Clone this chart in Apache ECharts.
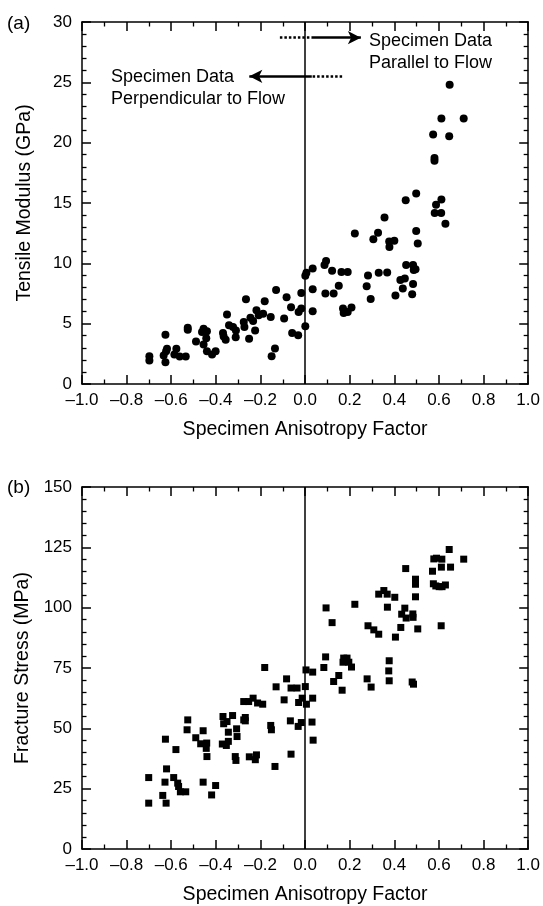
<!DOCTYPE html>
<html>
<head>
<meta charset="utf-8">
<script src="https://cdn.jsdelivr.net/npm/echarts@6/dist/echarts.min.js"></script>
<style>
html,body{margin:0;padding:0;background:#fff;}
#chart{width:543px;height:906px;}
</style>
</head>
<body>
<div id="chart"></div>
<script>
// ---- Data ----
const modulusX = [-0.698,-0.698,-0.626,-0.634,-0.623,-0.626,-0.619,-0.577,-0.586,-0.562,-0.535,-0.526,-0.526,-0.489,-0.462,-0.455,-0.440,-0.455,-0.443,-0.440,-0.417,-0.401,-0.350,-0.368,-0.365,-0.356,-0.341,-0.323,-0.311,-0.310,-0.272,-0.275,-0.265,-0.251,-0.245,-0.224,-0.233,-0.218,-0.208,-0.188,-0.181,-0.154,-0.150,-0.135,-0.130,-0.094,-0.083,-0.063,-0.058,-0.031,
 -0.029,-0.017,-0.017,0.001,0.001,0.006,0.034,0.034,0.034,0.087,0.094,0.091,0.121,0.128,0.151,0.163,0.191,0.170,0.173,0.191,0.208,0.223,0.276,0.282,0.294,0.306,0.327,0.330,0.356,0.368,0.377,0.378,0.400,0.405,0.427,0.438,0.447,0.451,0.453,0.480,0.484,0.484,0.487,0.495,0.498,0.498,0.505,0.574,0.580,0.580,0.581,0.587,0.611,0.610,0.611,0.629,0.646,0.711,0.648];
const modulusY = [2.30,1.94,4.08,2.36,2.72,1.80,2.92,2.92,2.44,2.28,2.28,4.67,4.50,3.52,4.30,4.58,4.38,3.27,3.80,2.72,2.44,2.72,5.75,4.22,3.94,3.67,4.86,4.72,3.88,4.44,4.72,5.13,7.03,3.75,5.50,4.44,5.22,6.11,5.69,5.83,6.86,5.55,2.30,2.94,7.78,5.42,7.19,6.36,4.22,4.03,
 5.97,6.25,7.55,4.78,8.97,9.22,9.58,7.86,6.03,9.86,10.19,7.50,9.39,7.50,8.14,9.28,9.28,6.25,5.89,5.97,6.33,12.47,8.11,9.00,7.05,12.0,12.53,9.22,13.8,9.25,11.8,11.36,11.88,7.33,8.61,7.92,8.75,15.22,9.86,7.44,8.28,9.86,9.44,9.5,15.78,12.67,11.64,20.67,18.72,18.5,14.17,14.86,22.0,14.17,15.3,13.28,20.53,22.0,24.8];

const stressX = [-0.701,-0.701,-0.626,-0.638,-0.628,-0.623,-0.621,-0.589,-0.579,-0.571,-0.567,-0.559,-0.535,-0.526,-0.529,-0.490,-0.468,-0.457,-0.457,-0.441,-0.443,-0.440,-0.419,-0.401,-0.368,-0.365,-0.371,-0.353,-0.350,-0.344,-0.344,-0.325,-0.313,-0.310,-0.307,-0.305,-0.275,-0.275,-0.268,-0.268,-0.253,-0.250,-0.233,-0.223,-0.218,-0.213,-0.190,-0.181,-0.154,-0.151,-0.135,-0.130,-0.094,-0.083,-0.066,-0.063,-0.063,-0.036,-0.031,-0.029,
 -0.017,-0.013,0.001,0.006,0.004,0.034,0.034,0.031,0.036,0.084,0.092,0.094,0.121,0.128,0.151,0.166,0.170,0.173,0.188,0.196,0.208,0.223,0.278,0.282,0.296,0.308,0.330,0.330,0.353,0.368,0.369,0.377,0.375,0.377,0.402,0.405,0.429,0.433,0.447,0.451,0.453,0.480,0.486,0.483,0.484,0.495,0.495,0.495,0.505,0.571,0.577,0.589,0.575,0.586,0.601,0.614,0.629,0.610,0.613,0.611,0.646,0.652,0.711];
const stressY = [29.6,19.0,45.5,22.2,27.7,19.0,33.2,29.6,41.2,27.3,25.9,23.7,23.7,53.5,49.4,46.1,43.6,49.0,27.7,43.9,41.7,38.3,22.4,26.3,54.9,51.9,43.5,42.9,52.8,48.4,44.6,55.3,38.3,36.7,49.8,46.6,53.5,61.1,54.5,53.1,61.1,38.2,62.5,37.0,39.0,60.5,60.0,75.2,51.2,49.4,34.2,67.2,61.8,70.5,53.1,39.3,66.7,66.7,50.8,60.7,
 52.4,62.5,67.3,60.0,74.2,73.3,62.5,52.6,45.1,75.2,79.6,99.9,93.8,69.4,71.9,65.8,77.4,79.1,79.1,77.4,75.4,101.4,70.5,92.5,67.1,90.8,89.0,105.6,107.1,105.6,100.2,78.0,73.8,69.7,104.3,87.8,91.8,97.3,99.8,116.2,95.7,69.2,68.3,97.4,96.0,111.8,109.7,104.5,91.2,115.1,120.2,120.5,109.9,109.0,108.7,108.7,109.4,92.5,120.1,116.8,124.1,116.8,120.1];

const xTicks = {min: -1, max: 1, interval: 0.2};
const modulusTicks = {min: 0, max: 30, interval: 5};
const stressTicks = {min: 0, max: 150, interval: 25};

// arrow annotations (data coords) : [xStart, xDashEnd, xTip, y]
const arrowParallel = [-0.113, 0.03, 0.25, 28.7];
const arrowPerp = [0.166, 0.03, -0.25, 25.5];

// ---- Chart ----
const FONT = 'Liberation Sans, Arial, Helvetica, sans-serif';
const chart = echarts.init(document.getElementById('chart'), null, {renderer: 'canvas'});
const zip = (a, b) => a.map((v, i) => [v, b[i]]);
const fmtX = v => (v < 0 ? '\u2013' : '') + Math.abs(v).toFixed(1);
const lineS = {color: '#000', width: 1.5};

function xAx(grid, pos, showLabel, showName) {
  return {
    type: 'value', gridIndex: grid, position: pos,
    min: xTicks.min, max: xTicks.max, interval: xTicks.interval,
    axisLine: {show: true, onZero: false, lineStyle: lineS},
    axisTick: {show: true, inside: true, length: 9, lineStyle: lineS},
    minorTick: {show: true, splitNumber: 2, length: 4.5, lineStyle: {color: '#000', width: 1.3}},
    splitLine: {show: false},
    axisLabel: {show: showLabel, formatter: fmtX, color: '#000', fontSize: 17, fontFamily: FONT, margin: 8,
      showMinLabel: true, showMaxLabel: true},
    name: showName ? 'Specimen Anisotropy Factor' : '',
    nameLocation: 'middle', nameGap: 36,
    nameTextStyle: {color: '#000', fontSize: 19.5, fontFamily: FONT}
  };
}
function yAx(grid, pos, ticks, minorSplit, showLabel, name) {
  return {
    type: 'value', gridIndex: grid, position: pos,
    min: ticks.min, max: ticks.max, interval: ticks.interval,
    axisLine: {show: true, onZero: false, lineStyle: lineS},
    axisTick: {show: true, inside: true, length: 9, lineStyle: lineS},
    minorTick: {show: true, splitNumber: minorSplit, length: 4.5, lineStyle: {color: '#000', width: 1.3}},
    splitLine: {show: false},
    axisLabel: {show: showLabel, color: '#000', fontSize: 17, fontFamily: FONT, margin: 10},
    name: name || '',
    nameLocation: 'middle', nameGap: 47,
    nameTextStyle: {color: '#000', fontSize: 19.5, fontFamily: FONT}
  };
}

function arrowLines(a) {
  const [x0, xm, xt, y] = a;
  return [
    [{coord: [x0, y], symbol: 'none', lineStyle: {type: [2.5, 2], width: 2.5, color: '#000'}},
     {coord: [xm, y], symbol: 'none'}],
    [{coord: [xm, y], symbol: 'none', lineStyle: {type: 'solid', width: 2.5, color: '#000'}},
     {coord: [xt, y], symbol: 'arrow', symbolSize: [10, 13]}]
  ];
}

const option = {
  animation: false,
  backgroundColor: '#fff',
  grid: [
    {left: 82, top: 22, width: 447, height: 362},
    {left: 82, top: 487, width: 447, height: 362}
  ],
  xAxis: [
    xAx(0, 'bottom', true, true),
    xAx(0, 'top', false, false),
    xAx(1, 'bottom', true, true),
    xAx(1, 'top', false, false)
  ],
  yAxis: [
    yAx(0, 'left', modulusTicks, 5, true, 'Tensile Modulus (GPa)'),
    yAx(0, 'right', modulusTicks, 5, false, ''),
    yAx(1, 'left', stressTicks, 5, true, 'Fracture Stress (MPa)'),
    yAx(1, 'right', stressTicks, 5, false, '')
  ],
  series: [
    {
      type: 'scatter', xAxisIndex: 0, yAxisIndex: 0,
      symbol: 'circle', symbolSize: 8,
      itemStyle: {color: '#000', opacity: 1},
      data: zip(modulusX, modulusY),
      markLine: {
        silent: true, animation: false,
        symbol: ['none', 'none'],
        label: {show: false},
        lineStyle: {color: '#000', width: 1.5, type: 'solid'},
        data: [
          [{coord: [0, modulusTicks.min], symbol: 'none'}, {coord: [0, modulusTicks.max], symbol: 'none'}]
        ].concat(arrowLines(arrowParallel)).concat(arrowLines(arrowPerp))
      }
    },
    {
      type: 'scatter', xAxisIndex: 2, yAxisIndex: 2,
      symbol: 'rect', symbolSize: 7,
      itemStyle: {color: '#000', opacity: 1},
      data: zip(stressX, stressY),
      markLine: {
        silent: true, animation: false,
        symbol: ['none', 'none'],
        label: {show: false},
        lineStyle: {color: '#000', width: 1.5, type: 'solid'},
        data: [
          [{coord: [0, stressTicks.min]}, {coord: [0, stressTicks.max]}]
        ]
      }
    }
  ],
  graphic: [
    {type: 'text', left: 7, top: 14, style: {text: '(a)', fontSize: 19, fontFamily: FONT, fill: '#000'}},
    {type: 'text', left: 7, top: 478, style: {text: '(b)', fontSize: 19, fontFamily: FONT, fill: '#000'}},
    {type: 'text', left: 369, top: 30, style: {text: 'Specimen Data\nParallel to Flow', fontSize: 18, lineHeight: 22, fontFamily: FONT, fill: '#000'}},
    {type: 'text', left: 111, top: 66, style: {text: 'Specimen Data\nPerpendicular to Flow', fontSize: 18, lineHeight: 22, fontFamily: FONT, fill: '#000'}}
  ]
};
chart.setOption(option);
</script>
</body>
</html>
